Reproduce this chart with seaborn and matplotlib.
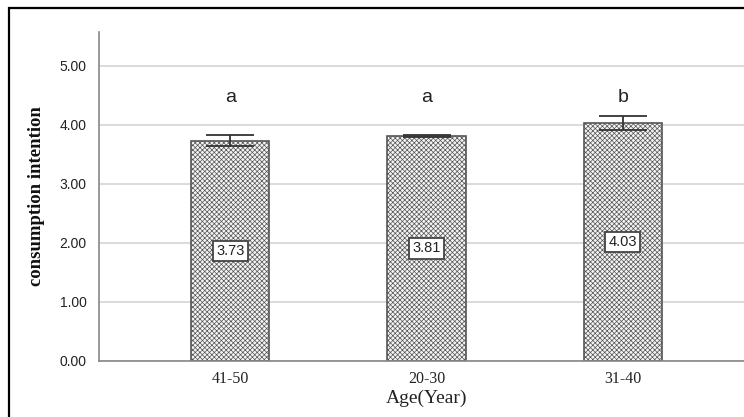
import matplotlib
matplotlib.use("Agg")
import matplotlib.pyplot as plt
import seaborn as sns
import pandas as pd
from matplotlib.patches import Rectangle

categories = ["41-50", "20-30", "31-40"]
means = [3.73, 3.81, 4.03]
errors = [0.09, 0.02, 0.12]
letters = ["a", "a", "b"]
yticks = [0.0, 1.0, 2.0, 3.0, 4.0, 5.0]

sns.set_style("white")
plt.rcParams["font.family"] = ["Liberation Sans", "DejaVu Sans"]
plt.rcParams["hatch.color"] = "#b4b4b4"
plt.rcParams["hatch.linewidth"] = 0.5

df = pd.DataFrame({"Age": categories, "mean": means})

fig = plt.figure(figsize=(7.44, 4.17), dpi=100)
ax = fig.add_axes([99 / 744, 56 / 417, 655 / 744, 329 / 417])

sns.barplot(data=df, x="Age", y="mean", order=categories, color="white",
            width=0.4, edgecolor="#555555", linewidth=1.2, errorbar=None,
            ax=ax, zorder=2)
for p in ax.patches:
    p.set_hatch("xxxxxxx")
    p.set_facecolor("#f4f4f4")

xs = list(range(len(categories)))
ax.errorbar(xs, means, yerr=errors, fmt="none", ecolor="#333333",
            elinewidth=1.3, capsize=17.5, capthick=1.3, zorder=3)

for x, m, l in zip(xs, means, letters):
    ax.text(x, 4.38, l, ha="center", va="baseline", fontsize=14, color="#222222")
    ax.text(x, m / 2, f"{m:.2f}", ha="center", va="center", fontsize=10.5,
            color="#222222", zorder=4,
            bbox=dict(boxstyle="square,pad=0.22", facecolor="white",
                      edgecolor="#444444", linewidth=1.3))

ax.set_xlim(-0.668, 2.668)
ax.set_ylim(0, 5.57)
ax.set_yticks(yticks)
ax.set_yticklabels([f"{v:.2f}" for v in yticks], fontsize=10, color="#222222")
ax.yaxis.grid(True, color="#d4d4d4", linewidth=1.2, zorder=0)
ax.set_axisbelow(True)
ax.tick_params(axis="both", length=0)
ax.tick_params(axis="y", pad=9)
ax.tick_params(axis="x", pad=7)
for lbl in ax.get_xticklabels():
    lbl.set_family(["Liberation Serif"])
    lbl.set_fontsize(11.5)
    lbl.set_color("#222222")

for s in ["top", "right"]:
    ax.spines[s].set_visible(False)
for s in ["left", "bottom"]:
    ax.spines[s].set_color("#888888")
    ax.spines[s].set_linewidth(1.2)

ax.set_xlabel("Age(Year)", family=["Liberation Serif"], fontsize=14,
              color="#222222", labelpad=2)
ax.set_ylabel("")
fig.text(37 / 744, 1 - 196 / 417, "consumption intention", rotation=90,
         ha="center", va="center", family=["Liberation Serif"],
         fontweight="bold", fontsize=13.5, color="#111111")

top = 1 - 8.5 / 417
fig.patches.append(Rectangle((9 / 744, -0.2), 1.2, top + 0.2,
                             transform=fig.transFigure, fill=False,
                             edgecolor="black", linewidth=1.6))

fig.savefig("out.png", dpi=100)
